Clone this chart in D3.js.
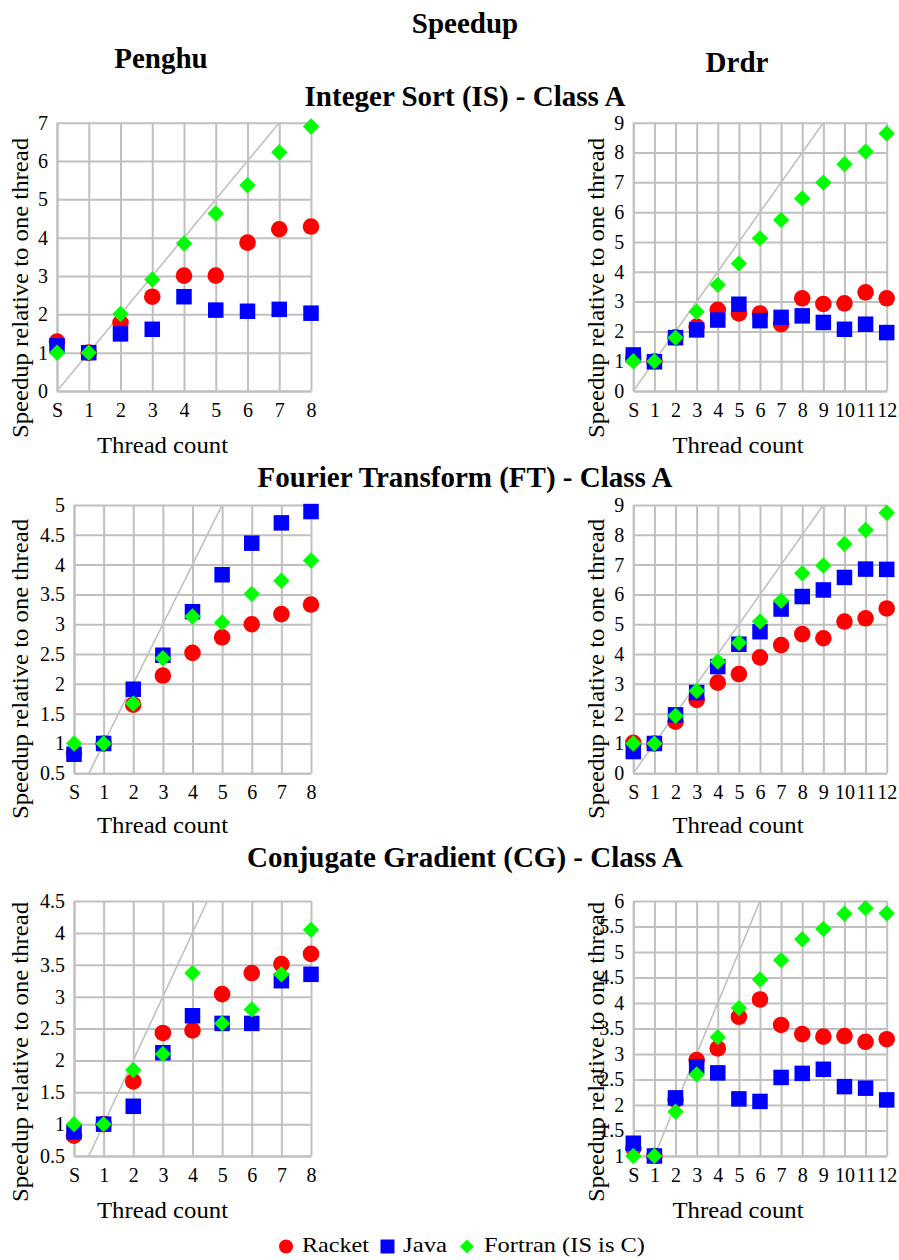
<!DOCTYPE html>
<html>
<head>
<meta charset="utf-8">
<script src="https://cdn.jsdelivr.net/npm/d3@7"></script>
<style>
  body { margin: 0; background: #fff; }
  text { font-family: "Liberation Serif", "Times New Roman", serif; fill: #000; }
</style>
</head>
<body>
<svg id="chart" width="899" height="1260"></svg>
<script>
// Thread counts on the x axis ("S" = sequential run)
const threadsPenghu = ["S", "1", "2", "3", "4", "5", "6", "7", "8"];
const threadsDrdr = ["S", "1", "2", "3", "4", "5", "6", "7", "8", "9", "10", "11", "12"];

// Integer Sort (IS) speedups
const isPenghuRacket  = [1.29, 1.00, 1.78, 2.46, 3.01, 3.01, 3.87, 4.22, 4.29];
const isPenghuJava    = [1.18, 1.00, 1.49, 1.61, 2.46, 2.11, 2.08, 2.13, 2.03];
const isPenghuFortran = [1.00, 1.00, 2.01, 2.91, 3.85, 4.63, 5.37, 6.23, 6.90];
const isDrdrRacket    = [1.10, 1.00, 1.80, 2.16, 2.72, 2.60, 2.60, 2.24, 3.11, 2.92, 2.94, 3.31, 3.11];
const isDrdrJava      = [1.21, 0.98, 1.79, 2.05, 2.38, 2.91, 2.36, 2.47, 2.52, 2.30, 2.07, 2.24, 1.96];
const isDrdrFortran   = [1.00, 1.00, 1.79, 2.66, 3.56, 4.28, 5.12, 5.74, 6.46, 6.99, 7.61, 8.03, 8.64];

// Fourier Transform (FT) speedups
const ftPenghuRacket  = [0.83, 1.00, 1.65, 2.14, 2.52, 2.78, 3.00, 3.17, 3.33];
const ftPenghuJava    = [0.82, 1.00, 1.91, 2.48, 3.21, 3.83, 4.36, 4.70, 4.89];
const ftPenghuFortran = [1.00, 1.00, 1.67, 2.43, 3.13, 3.03, 3.51, 3.73, 4.07];
const ftDrdrRacket    = [1.02, 1.00, 1.73, 2.46, 3.04, 3.33, 3.89, 4.30, 4.67, 4.53, 5.09, 5.20, 5.53];
const ftDrdrJava      = [0.73, 1.00, 1.96, 2.71, 3.58, 4.33, 4.75, 5.51, 5.93, 6.15, 6.57, 6.85, 6.84];
const ftDrdrFortran   = [1.00, 1.00, 1.93, 2.77, 3.75, 4.38, 5.09, 5.79, 6.71, 6.97, 7.69, 8.16, 8.74];

// Conjugate Gradient (CG) speedups
const cgPenghuRacket  = [0.82, 1.00, 1.67, 2.43, 2.47, 3.04, 3.37, 3.51, 3.67];
const cgPenghuJava    = [0.88, 1.00, 1.28, 2.12, 2.70, 2.58, 2.58, 3.25, 3.35];
const cgPenghuFortran = [1.00, 1.00, 1.85, 2.10, 3.37, 2.58, 2.80, 3.35, 4.05];
const cgDrdrRacket    = [1.15, 1.00, 2.10, 2.88, 3.11, 3.73, 4.07, 3.57, 3.39, 3.34, 3.35, 3.24, 3.29];
const cgDrdrJava      = [1.25, 1.00, 2.14, 2.75, 2.63, 2.12, 2.07, 2.54, 2.62, 2.70, 2.36, 2.33, 2.10];
const cgDrdrFortran   = [1.00, 1.00, 1.87, 2.60, 3.33, 3.90, 4.46, 4.84, 5.25, 5.45, 5.75, 5.86, 5.76];

// Y tick values per panel
const ticksIsPenghu = [0, 1, 2, 3, 4, 5, 6, 7];
const ticksIsDrdr   = [0, 1, 2, 3, 4, 5, 6, 7, 8, 9];
const ticksFtPenghu = [0.5, 1, 1.5, 2, 2.5, 3, 3.5, 4, 4.5, 5];
const ticksFtDrdr   = [0, 1, 2, 3, 4, 5, 6, 7, 8, 9];
const ticksCgPenghu = [0.5, 1, 1.5, 2, 2.5, 3, 3.5, 4, 4.5];
const ticksCgDrdr   = [1, 1.5, 2, 2.5, 3, 3.5, 4, 4.5, 5, 5.5, 6];

// Text
const mainTitle = "Speedup";
const machineNames = ["Penghu", "Drdr"];
const benchmarkTitles = ["Integer Sort (IS) - Class A", "Fourier Transform (FT) - Class A", "Conjugate Gradient (CG) - Class A"];
const seriesNames = ["Racket", "Java", "Fortran (IS is C)"];
const xAxisTitle = "Thread count";
const yAxisTitle = "Speedup relative to one thread";

// Styling
const colors = { racket: "#ff0000", java: "#0000ff", fortran: "#00ff00" };
const gridColor = "#c0c0c0";
const tickFont = 20;
const axisTitleFont = 23;
const titleFont = 29;

// Panel frames
const leftCol = { left: 57, right: 311, yTitleX: 28, xTitleX: 162.5 };
const leftColWide = { left: 74, right: 311, yTitleX: 28, xTitleX: 162.5 };
const rightCol = { left: 633.3, right: 886.7, yTitleX: 604, xTitleX: 738 };
const rows = [
  { top: 122.7, bottom: 391, yTitleY: 288, xTitleY: 453, titleY: 106 },
  { top: 505, bottom: 773.3, yTitleY: 669, xTitleY: 833, titleY: 487 },
  { top: 901, bottom: 1156, yTitleY: 1052, xTitleY: 1218, titleY: 867 }
];

const panels = [
  { col: leftCol, row: rows[0], cats: threadsPenghu, yTicks: ticksIsPenghu, racket: isPenghuRacket, java: isPenghuJava, fortran: isPenghuFortran },
  { col: rightCol, row: rows[0], cats: threadsDrdr, yTicks: ticksIsDrdr, racket: isDrdrRacket, java: isDrdrJava, fortran: isDrdrFortran },
  { col: leftColWide, row: rows[1], cats: threadsPenghu, yTicks: ticksFtPenghu, racket: ftPenghuRacket, java: ftPenghuJava, fortran: ftPenghuFortran },
  { col: rightCol, row: rows[1], cats: threadsDrdr, yTicks: ticksFtDrdr, racket: ftDrdrRacket, java: ftDrdrJava, fortran: ftDrdrFortran },
  { col: leftColWide, row: rows[2], cats: threadsPenghu, yTicks: ticksCgPenghu, racket: cgPenghuRacket, java: cgPenghuJava, fortran: cgPenghuFortran },
  { col: rightCol, row: rows[2], cats: threadsDrdr, yTicks: ticksCgDrdr, racket: cgDrdrRacket, java: cgDrdrJava, fortran: cgDrdrFortran }
];

const svg = d3.select("#chart");

// Marker shapes
const circleR = 8.3, squareSide = 15.5, diamondHalf = 8.2;
function drawCircle(g, x, y, r) {
  g.append("circle").attr("cx", x).attr("cy", y).attr("r", r).attr("fill", colors.racket);
}
function drawSquare(g, x, y, s) {
  g.append("rect").attr("x", x - s / 2).attr("y", y - s / 2).attr("width", s).attr("height", s).attr("fill", colors.java);
}
function drawDiamond(g, x, y, h) {
  g.append("path").attr("d", `M${x},${y - h}L${x + h},${y}L${x},${y + h}L${x - h},${y}Z`).attr("fill", colors.fortran);
}

// Titles
svg.append("text").attr("x", 465).attr("y", 33).attr("text-anchor", "middle")
  .attr("font-size", titleFont).attr("font-weight", "bold").text(mainTitle);
svg.append("text").attr("x", 161).attr("y", 68).attr("text-anchor", "middle")
  .attr("font-size", titleFont).attr("font-weight", "bold").text(machineNames[0]);
svg.append("text").attr("x", 737).attr("y", 72).attr("text-anchor", "middle")
  .attr("font-size", titleFont).attr("font-weight", "bold").text(machineNames[1]);
rows.forEach((r, i) => {
  svg.append("text").attr("x", 465).attr("y", r.titleY).attr("text-anchor", "middle")
    .attr("font-size", titleFont).attr("font-weight", "bold").text(benchmarkTitles[i]);
});

panels.forEach(p => {
  const { left, right } = p.col;
  const { top, bottom } = p.row;
  const yMin = p.yTicks[0], yMax = p.yTicks[p.yTicks.length - 1];

  const x = d3.scalePoint().domain(p.cats).range([left, right]).padding(0);
  const xIdx = d3.scaleLinear().domain([0, p.cats.length - 1]).range([left, right]);
  const y = d3.scaleLinear().domain([yMin, yMax]).range([bottom, top]);

  const g = svg.append("g");

  // Horizontal gridlines + y tick labels
  const yAxis = g.append("g").attr("transform", `translate(${left},0)`)
    .call(d3.axisLeft(y).tickValues(p.yTicks).tickFormat(d => String(d))
      .tickSize(-(right - left)).tickSizeOuter(0).tickPadding(9));
  // Vertical gridlines + x tick labels
  const xAxis = g.append("g").attr("transform", `translate(0,${bottom})`)
    .call(d3.axisBottom(x).tickSize(-(bottom - top)).tickSizeOuter(0).tickPadding(10));

  [yAxis, xAxis].forEach(a => {
    a.select(".domain").attr("stroke", gridColor).attr("stroke-width", 2);
    a.selectAll(".tick line").attr("stroke", gridColor).attr("stroke-width", 2);
    a.selectAll(".tick text").attr("font-size", tickFont)
      .attr("font-family", '"Liberation Serif", "Times New Roman", serif').attr("fill", "#000");
  });
  xAxis.selectAll(".tick text").attr("y", 26).attr("dy", 0);

  // Linear-speedup reference line (speedup = thread count)
  const i0 = Math.max(0, yMin);
  const i1 = Math.min(p.cats.length - 1, yMax);
  g.append("line")
    .attr("x1", xIdx(i0)).attr("y1", y(i0))
    .attr("x2", xIdx(i1)).attr("y2", y(i1))
    .attr("stroke", gridColor).attr("stroke-width", 1.6);

  // Series markers
  const mk = g.append("g");
  p.cats.forEach((c, i) => drawCircle(mk, x(c), y(p.racket[i]), circleR));
  p.cats.forEach((c, i) => drawSquare(mk, x(c), y(p.java[i]), squareSide));
  p.cats.forEach((c, i) => drawDiamond(mk, x(c), y(p.fortran[i]), diamondHalf));

  // Axis titles
  g.append("text").attr("x", p.col.xTitleX).attr("y", p.row.xTitleY).attr("text-anchor", "middle")
    .attr("font-size", axisTitleFont).attr("textLength", 131).attr("lengthAdjust", "spacingAndGlyphs")
    .text(xAxisTitle);
  g.append("text")
    .attr("transform", `translate(${p.col.yTitleX},${p.row.yTitleY}) rotate(-90)`)
    .attr("text-anchor", "middle").attr("font-size", axisTitleFont)
    .attr("textLength", 300).attr("lengthAdjust", "spacingAndGlyphs")
    .text(yAxisTitle);
});

// Legend
const lg = svg.append("g");
const legendY = 1246.5, legendBase = 1252;
drawCircle(lg, 286, legendY, 7);
lg.append("text").attr("x", 302).attr("y", legendBase).attr("font-size", 22)
  .attr("textLength", 67).attr("lengthAdjust", "spacingAndGlyphs").text(seriesNames[0]);
drawSquare(lg, 387.5, legendY, 14);
lg.append("text").attr("x", 403).attr("y", legendBase).attr("font-size", 22)
  .attr("textLength", 44).attr("lengthAdjust", "spacingAndGlyphs").text(seriesNames[1]);
drawDiamond(lg, 467, legendY, 7);
lg.append("text").attr("x", 484).attr("y", legendBase).attr("font-size", 22)
  .attr("textLength", 161).attr("lengthAdjust", "spacingAndGlyphs").text(seriesNames[2]);
</script>
</body>
</html>
